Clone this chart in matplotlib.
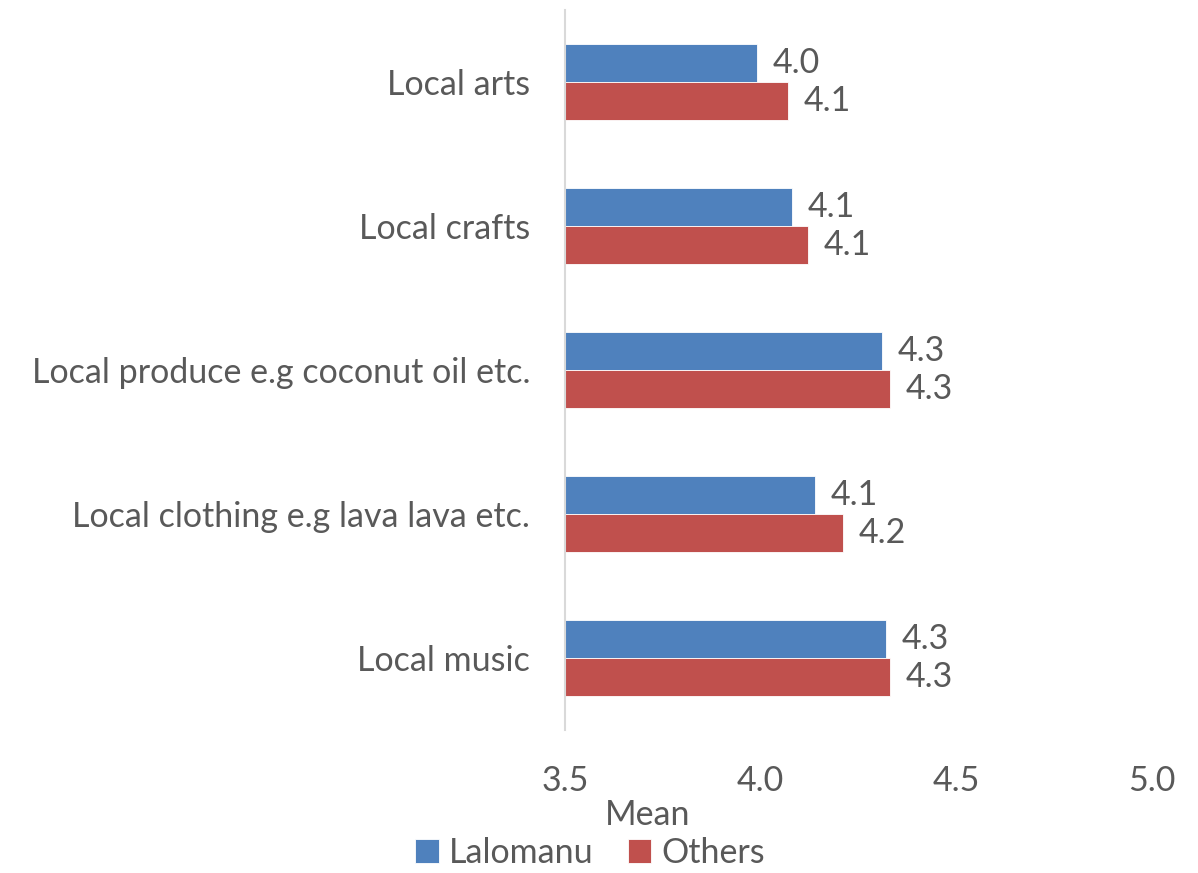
import numpy as np
import matplotlib.pyplot as plt

# mean scores per item
categories = ["Local arts", "Local crafts", "Local produce e.g coconut oil etc.",
              "Local clothing e.g lava lava etc.", "Local music"]
lalomanu = [3.99, 4.08, 4.31, 4.14, 4.32]
others = [4.07, 4.12, 4.33, 4.21, 4.33]
xticks = [3.5, 4.0, 4.5, 5.0]

blue = "#4F81BD"
red = "#C0504D"
grey = "#595959"
fs = 24.5

plt.rcParams['font.family'] = ['Lato', 'DejaVu Sans']

fig = plt.figure(figsize=(11.98, 8.73), dpi=100)
ax = fig.add_axes([0.4716, 1 - 730 / 873, 0.9616 - 0.4716, 720 / 873])

y = np.arange(len(categories))
h = 0.265
b1 = ax.barh(y - h / 2, lalomanu, height=h, left=0, color=blue, label="Lalomanu",
             edgecolor="white", linewidth=0.6)
b2 = ax.barh(y + h / 2, others, height=h, left=0, color=red, label="Others",
             edgecolor="white", linewidth=0.6)

for yy, v in zip(y - h / 2, lalomanu):
    ax.text(v + 0.04, yy, f"{v:.1f}", va="center", ha="left", fontsize=fs, color=grey)
for yy, v in zip(y + h / 2, others):
    ax.text(v + 0.04, yy, f"{v:.1f}", va="center", ha="left", fontsize=fs, color=grey)

ax.set_xlim(3.5, 5.0)
ax.set_ylim(len(categories) - 0.5, -0.5)
ax.set_xticks(xticks)
ax.set_xticklabels([f"{t:.1f}" for t in xticks])
ax.set_yticks(y)
ax.set_yticklabels(categories)
ax.tick_params(axis="x", length=0, pad=25, labelsize=fs, labelcolor=grey)
ax.tick_params(axis="y", length=0, pad=25, labelsize=fs, labelcolor=grey)

for s in ["top", "right", "bottom"]:
    ax.spines[s].set_visible(False)
ax.spines["left"].set_color("#D9D9D9")
ax.spines["left"].set_linewidth(1.5)

fig.text(648 / 1198, 1 - 815 / 873, "Mean", ha="center", va="center", fontsize=fs, color=grey)
fig.legend(handles=[b1, b2], loc="center", bbox_to_anchor=(590 / 1198, 1 - 853 / 873),
           ncol=2, frameon=False, fontsize=fs, labelcolor=grey, handlelength=0.7,
           handleheight=0.7, handletextpad=0.3, columnspacing=1.0)

fig.savefig("out.png", dpi=100)
